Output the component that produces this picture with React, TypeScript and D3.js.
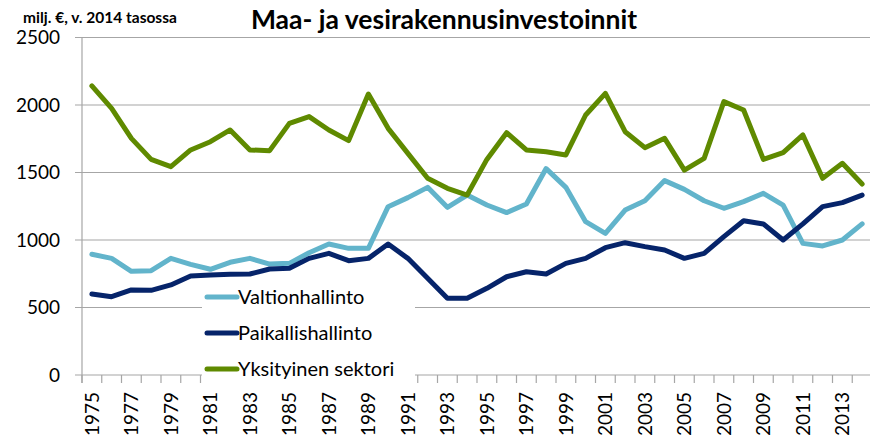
import React from "react";
import * as d3 from "d3";

// milj. €, v. 2014 tasossa
const years = d3.range(1975, 2015);
const valtionhallinto = [
   894, 864, 768, 773, 864, 820, 783, 835, 864, 822,
   827, 906, 970, 938, 938, 1247, 1314, 1390, 1242, 1333,
   1259, 1203, 1267, 1529, 1390, 1136, 1049, 1222, 1291, 1440,
   1375, 1291, 1235, 1284, 1346, 1259, 975, 956, 1000, 1119,
];
const paikallishallinto = [
   600, 580, 630, 627, 667, 733, 741, 746, 748, 785,
   790, 864, 901, 847, 864, 970, 864, 716, 568, 568,
   642, 728, 765, 748, 827, 864, 943, 980, 951, 926,
   864, 901, 1025, 1143, 1119, 1000, 1119, 1247, 1277, 1333,
];
const yksityinen = [
   2141, 1975, 1753, 1597, 1543, 1667, 1728, 1815, 1667, 1662,
   1864, 1914, 1815, 1736, 2081, 1827, 1642, 1457, 1383, 1333,
   1597, 1795, 1667, 1654, 1630, 1926, 2086, 1802, 1684, 1753,
   1518, 1605, 2025, 1963, 1597, 1647, 1778, 1457, 1568, 1415,
];
const yTicks = [0, 500, 1000, 1500, 2000, 2500];

const series = [
   { name: "Valtionhallinto", values: valtionhallinto, color: "#62b4cb" },
   { name: "Paikallishallinto", values: paikallishallinto, color: "#06246a" },
   { name: "Yksityinen sektori", values: yksityinen, color: "#5f8a00" },
];

const font = "Lato, 'Open Sans', 'DejaVu Sans', sans-serif";

export default function App() {
   const width = 870;
   const height = 442;
   const left = 82;
   const top = 37.5;
   const bottom = 375;

   const x = d3
      .scaleBand<number>()
      .domain(years)
      .range([left, left + 790]);
   const y = d3.scaleLinear().domain([0, 2500]).range([bottom, top]);

   const line = d3
      .line<number>()
      .x((d, i) => (x(years[i]) as number) + x.bandwidth() / 2)
      .y((d) => y(d));

   const tickXs = years.map((yr) => x(yr) as number).concat([left + 790]);

   return (
      <div style={{ position: "absolute", left: 0, top: 0 }}>
         <svg width={width} height={height} style={{ display: "block", fontFamily: font }}>
            <rect width={width} height={height} fill="#fff" />

            {/* gridlines and y axis */}
            {yTicks.map((t) => (
               <g key={t}>
                  <line x1={left - 7} x2={width} y1={y(t)} y2={y(t)} stroke="#a6a6a6" strokeWidth={1.2} />
                  <text x={60} y={y(t)} dy="0.36em" textAnchor="end" fontSize={19} fill="#000">
                     {t}
                  </text>
               </g>
            ))}
            <line x1={left} x2={left} y1={top} y2={bottom + 8} stroke="#a6a6a6" strokeWidth={1.2} />

            {/* x axis ticks */}
            {tickXs.map((tx, i) => (
               <line key={i} x1={tx} x2={tx} y1={bottom} y2={bottom + 8} stroke="#a6a6a6" strokeWidth={1.2} />
            ))}
            {years
               .filter((yr) => (yr - 1975) % 2 === 0)
               .map((yr) => {
                  const cx = (x(yr) as number) + x.bandwidth() / 2;
                  return (
                     <text
                        key={yr}
                        transform={`translate(${cx},392) rotate(-90)`}
                        dy="0.36em"
                        textAnchor="end"
                        fontSize={19}
                        fill="#000"
                     >
                        {yr}
                     </text>
                  );
               })}

            {/* lines */}
            {series.map((s) => (
               <path
                  key={s.name}
                  d={line(s.values) as string}
                  fill="none"
                  stroke={s.color}
                  strokeWidth={5}
                  strokeLinejoin="round"
                  strokeLinecap="round"
               />
            ))}

            {/* legend */}
            <rect x={202} y={283} width={213} height={105} fill="#fff" />
            {series.map((s, i) => (
               <g key={s.name} transform={`translate(207,${297 + i * 36})`}>
                  <line x1={0} x2={30} y1={0} y2={0} stroke={s.color} strokeWidth={5} strokeLinecap="round" />
                  <text x={31} y={0} dy="0.36em" fontSize={20} fill="#000">
                     {s.name}
                  </text>
               </g>
            ))}

            {/* titles */}
            <text x={23} y={23} fontSize={15.5} fontWeight="bold" fill="#000">
               milj. €, v. 2014 tasossa
            </text>
            <text x={444} y={29} textAnchor="middle" fontSize={26.5} fontWeight="bold" fill="#000">
               Maa- ja vesirakennusinvestoinnit
            </text>
         </svg>
      </div>
   );
}
